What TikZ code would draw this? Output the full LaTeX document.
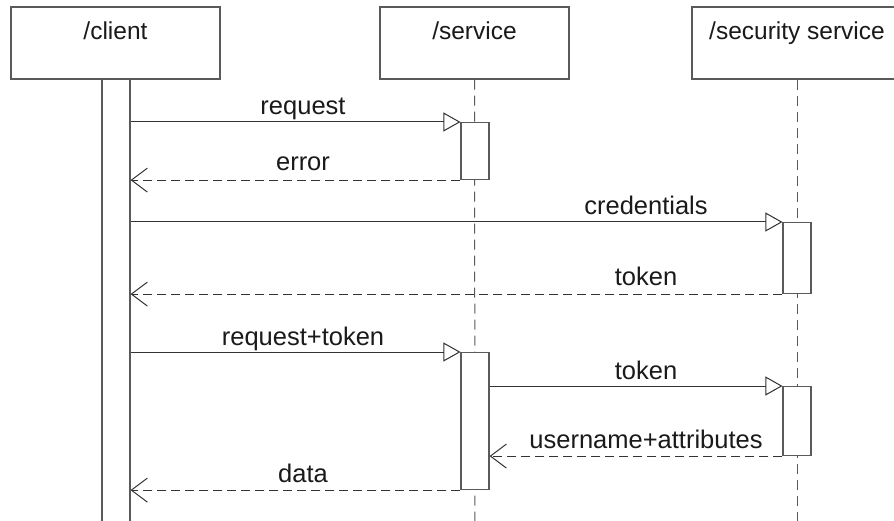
\documentclass[tikz,border=0pt]{standalone}
\usepackage{fontspec}
\setmainfont{Liberation Sans}
\usetikzlibrary{arrows.meta}
\definecolor{boxgray}{HTML}{5A5A5A}
\definecolor{linegray}{HTML}{333333}
\definecolor{txt}{HTML}{1A1A1A}
\tikzset{
  hdr/.style={draw=boxgray, line width=1.1pt, fill=white, rectangle, inner sep=0pt, minimum height=72pt},
  hdrtxt/.style={anchor=north, inner sep=0pt, yshift=-15pt, text=txt, font=\fontsize{24.5}{28}\selectfont},
  actbar/.style={draw=boxgray, line width=1.1pt, fill=white, rectangle, inner sep=0pt, minimum width=28pt, anchor=north},
  life/.style={draw=boxgray, line width=1pt, dash pattern=on 10pt off 6pt},
  msg/.style={draw=linegray, line width=1pt, -{Triangle[open, length=17pt, width=19pt, line width=1pt]}},
  ret/.style={draw=linegray, line width=1pt, dash pattern=on 9pt off 5pt, -{Straight Barb[length=16pt, width=24pt, line width=1pt]}},
  lbl/.style={anchor=base, inner sep=0pt, text=txt, font=\fontsize{25.5}{28}\selectfont}
}
\begin{document}
\begin{tikzpicture}[x=1pt,y=-1pt]
\useasboundingbox (0,0) rectangle (894,521);
\clip (0,0) rectangle (894,521);
\fill[white] (0,0) rectangle (894,521);
% headers
\node[hdr, minimum width=209pt, label={[hdrtxt]north:/client}] (client) at (115.5,43) {};
\node[hdr, minimum width=189pt, label={[hdrtxt]north:/service}] (service) at (474.5,43) {};
\node[hdr, minimum width=210pt, label={[hdrtxt]north:/security service}] (security) at (797,43) {};
% lifelines
\coordinate (servend) at (475,530);
\coordinate (secend) at (797,530);
\draw[life] (service.south) -- (servend);
\draw[life] (security.south) -- (secend);
% activation bars
\node[actbar, minimum height=460pt] (cbar) at (116,79) {};
\node[actbar, minimum height=57pt] (a1) at (475,122) {};
\node[actbar, minimum height=71pt] (s1) at (797,222) {};
\node[actbar, minimum height=137pt] (a2) at (475,352) {};
\node[actbar, minimum height=69pt] (s2) at (797,386) {};
% messages
\draw[msg] (cbar.east |- a1.north west) -- (a1.north west);
\draw[ret] (a1.south west) -- (cbar.east |- a1.south west);
\draw[msg] (cbar.east |- s1.north west) -- (s1.north west);
\draw[ret] (s1.south west) -- (cbar.east |- s1.south west);
\draw[msg] (cbar.east |- a2.north west) -- (a2.north west);
\draw[msg] (a2.east |- s2.north west) -- (s2.north west);
\draw[ret] (s2.south west) -- (a2.east |- s2.south west);
\draw[ret] (a2.south west) -- (cbar.east |- a2.south west);
% labels
\node[lbl] (l1) at (303,115) {request};
\node[lbl] (l2) at (303,171) {error};
\node[lbl] (l3) at (646,215) {credentials};
\node[lbl] (l4) at (646,286) {token};
\node[lbl] (l5) at (303,345) {request+token};
\node[lbl] (l6) at (646,379) {token};
\node[lbl] (l7) at (646,448) {username+attributes};
\node[lbl] (l8) at (303,482) {data};
\end{tikzpicture}
\end{document}
